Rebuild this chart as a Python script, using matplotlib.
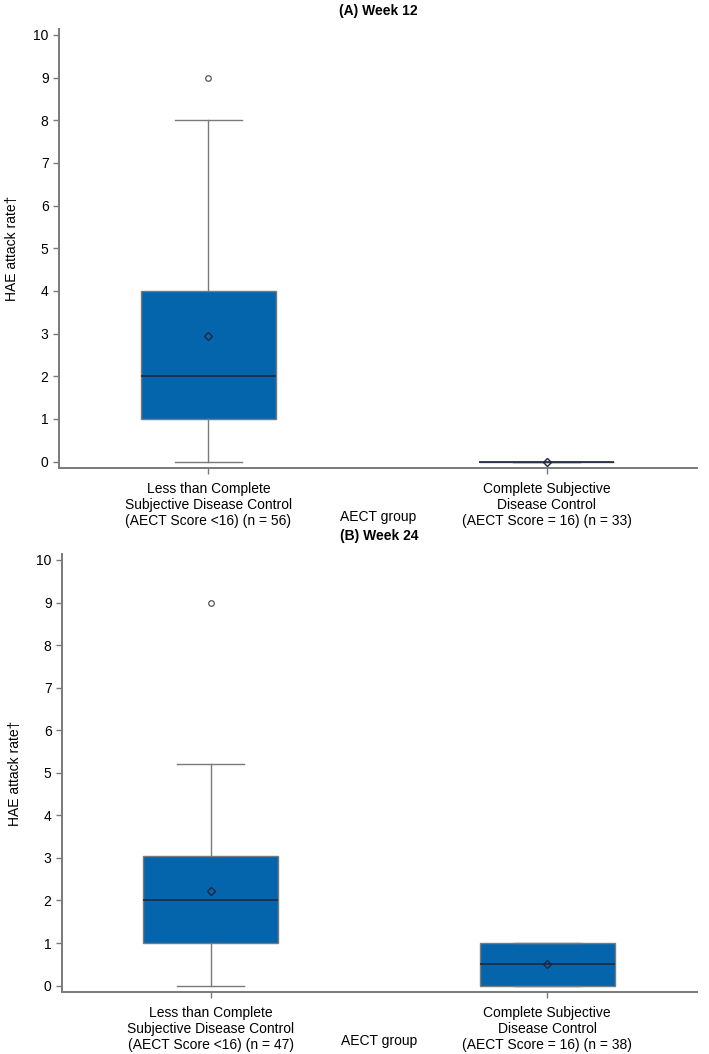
#!/usr/bin/env python3

"""HAE attack rate by AECT group at week 12 and week 24 (box plots)."""

import matplotlib
matplotlib.use("Agg")
import matplotlib.pyplot as plt

plt.rcParams["font.family"] = ["Liberation Sans", "DejaVu Sans"]

# box statistics
groups_w12 = [
    "Less than Complete\nSubjective Disease Control\n(AECT Score <16) (n = 56)",
    "Complete Subjective\nDisease Control\n(AECT Score = 16) (n = 33)",
]
groups_w24 = [
    "Less than Complete\nSubjective Disease Control\n(AECT Score <16) (n = 47)",
    "Complete Subjective\nDisease Control\n(AECT Score = 16) (n = 38)",
]
w12_whislo = [0, 0]
w12_q1 = [1, 0]
w12_med = [2, 0]
w12_q3 = [4, 0]
w12_whishi = [8, 0]
w12_mean = [2.95, 0]
w12_fliers = [[9], []]

w24_whislo = [0, 0]
w24_q1 = [1, 0]
w24_med = [2, 0.5]
w24_q3 = [3.05, 1]
w24_whishi = [5.2, 1]
w24_mean = [2.22, 0.5]
w24_fliers = [[9], []]

BOX_COLOR = "#0565AC"
LINE_GRAY = "#7a7a7a"
DARK = "#1b2a3f"
FS = 10


def make_stats(lo, q1, med, q3, hi, mean, fliers):
    return [
        dict(whislo=lo[i], q1=q1[i], med=med[i], q3=q3[i], whishi=hi[i],
             mean=mean[i], fliers=fliers[i])
        for i in range(len(lo))
    ]


def draw_panel(ax, stats, labels, title):
    ax.bxp(
        stats,
        positions=[1, 2],
        widths=0.4,
        capwidths=0.2,
        showmeans=True,
        patch_artist=True,
        boxprops=dict(facecolor=BOX_COLOR, edgecolor=LINE_GRAY, linewidth=1.0),
        medianprops=dict(color=DARK, linewidth=1.2),
        whiskerprops=dict(color=LINE_GRAY, linewidth=1.0),
        capprops=dict(color=LINE_GRAY, linewidth=1.0),
        meanprops=dict(marker="D", markerfacecolor="none", markeredgecolor=DARK,
                       markersize=4.5, markeredgewidth=1.0),
        flierprops=dict(marker="o", markerfacecolor="none", markeredgecolor="#555555",
                        markersize=4, markeredgewidth=0.9),
    )
    ax.set_xlim(0.558, 2.445)
    ax.set_ylim(-0.15, 10.14)
    ax.set_yticks(range(0, 11))
    ax.set_xticks([1, 2])
    ax.set_xticklabels(labels, fontsize=FS, linespacing=1.2)
    ax.tick_params(axis="y", labelsize=FS, length=4, color=LINE_GRAY, width=1.0)
    ax.tick_params(axis="x", length=4, color=LINE_GRAY, width=1.0, pad=6)
    for side in ["top", "right"]:
        ax.spines[side].set_visible(False)
    for side in ["left", "bottom"]:
        ax.spines[side].set_color(LINE_GRAY)
        ax.spines[side].set_linewidth(1.4)
    ax.set_xlabel("AECT group", fontsize=FS, va="center")
    ax.xaxis.set_label_coords(0.5, -0.112)
    ax.set_ylabel("HAE attack rate\u2020", fontsize=FS, labelpad=10)
    ax.set_title(title, fontsize=FS, fontweight="bold", pad=10)


fig = plt.figure(figsize=(7.09, 10.54), dpi=100)
ax_a = fig.add_axes([0.0832, 0.556, 0.9, 0.4165])
ax_b = fig.add_axes([0.0874, 0.0588, 0.8956, 0.4156])

draw_panel(ax_a,
           make_stats(w12_whislo, w12_q1, w12_med, w12_q3, w12_whishi, w12_mean, w12_fliers),
           groups_w12, "(A) Week 12")
draw_panel(ax_b,
           make_stats(w24_whislo, w24_q1, w24_med, w24_q3, w24_whishi, w24_mean, w24_fliers),
           groups_w24, "(B) Week 24")

fig.savefig("out.png", dpi=100)
